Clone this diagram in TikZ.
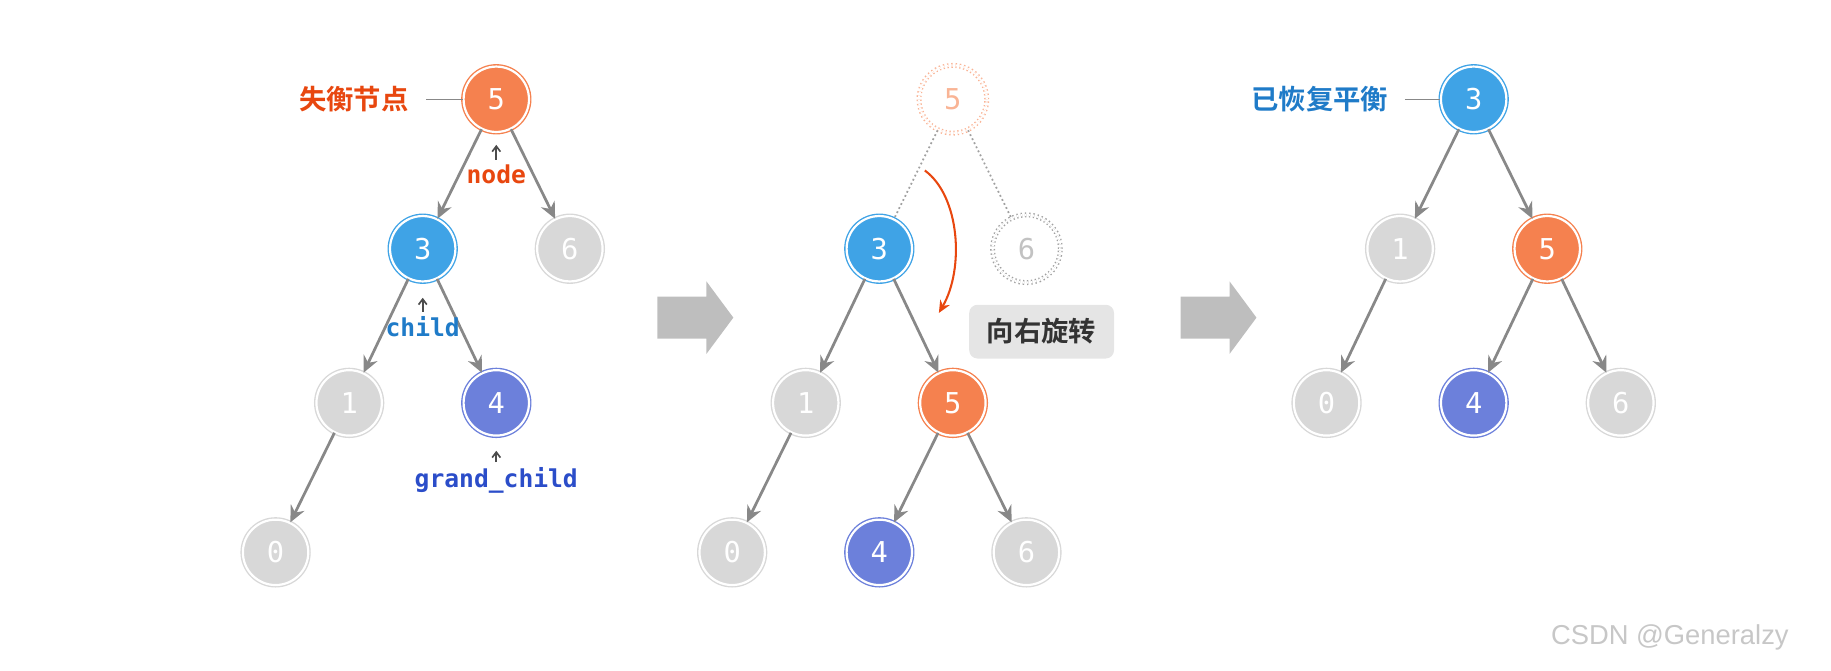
\documentclass[tikz,border=0pt]{standalone}
\usepackage{fontspec}
\setmainfont{DejaVu Sans Mono}
\newfontfamily\cjk{Noto Sans CJK SC}[BoldFont={Noto Sans CJK SC Bold}]
\newfontfamily\wm{Liberation Sans}
\usetikzlibrary{arrows.meta}
\definecolor{cor}{HTML}{F5814F}
\definecolor{cbl}{HTML}{3FA3E6}
\definecolor{cpu}{HTML}{6C80DB}
\definecolor{cgr}{HTML}{D8D8D8}
\definecolor{ced}{HTML}{888888}
\definecolor{lor}{HTML}{E8470F}
\definecolor{lbl}{HTML}{1F7BC8}
\definecolor{lpu}{HTML}{2B4DC9}
\newdimen\px \px=0.03cm
\tikzset{
 tn/.style={circle,minimum size=56\px,inner sep=0pt,fill=#1,draw=#1,double=white,double distance=1.6pt,line width=1pt,text=white,font=\fontsize{21}{21}\selectfont},
 gh/.style={circle,minimum size=58\px,inner sep=0pt,draw=#1,dotted,double=white,double distance=1.6pt,line width=1pt,font=\fontsize{21}{21}\selectfont},
 ed/.style={draw=ced,line width=2pt,-{Stealth[length=12pt,width=11pt,inset=4pt]}},
 ged/.style={draw=ced!80,line width=1.3pt,dotted},
 lab/.style={font=\bfseries\fontsize{18}{18}\selectfont},
 cj/.style={font=\cjk\bfseries\fontsize{20}{20}\selectfont},
 car/.style={line width=1.2pt,-{Straight Barb[length=4pt,width=6pt]}},
 big/.style={fill=ced!55,draw=none}
}
\begin{document}
\begin{tikzpicture}[x=0.03cm,y=-0.03cm]
\useasboundingbox (0,0) rectangle (1568,574);
% tree 1
\node[tn=cor] (a5) at (425,85) {5};
\node[tn=cbl] (a3) at (362,213) {3};
\node[tn=cgr] (a6) at (488,213) {6};
\node[tn=cgr] (a1) at (299,345) {1};
\node[tn=cpu] (a4) at (425,345) {4};
\node[tn=cgr] (a0) at (236,473) {0};
\draw[ed] (a5)--(a3); \draw[ed] (a5)--(a6);
\draw[ed] (a3)--(a1); \draw[ed] (a3)--(a4);
\draw[ed] (a1)--(a0);
\node[cj,text=lor,anchor=east] (l1) at (354,85) {失衡节点};
\draw[ced,line width=1pt] (365,85)--(a5.west);
\node[lab,text=lor] (ln) at (425,149) {node};
\coordinate (cn) at (425,124); \draw[car,black!70] (ln.north)--(cn);
\node[lab,text=lbl] (lc) at (362,280) {child};
\coordinate (cc) at (362,255); \draw[car,black!70] (lc.north)--(cc);
\node[lab,text=lpu] (lg) at (425,411) {grand\_child};
\coordinate (cg) at (425,386); \draw[car,black!70] (lg.north)--(cg);
% arrows
\fill[big] (563,254)--(605,254)--(605,241)--(628,272)--(605,303)--(605,290)--(563,290)--cycle;
\fill[big] (1011,254)--(1053,254)--(1053,241)--(1076,272)--(1053,303)--(1053,290)--(1011,290)--cycle;
% tree 2
\node[gh=cor!60,text=cor!60] (g5) at (816,85) {5};
\node[gh=ced!80,text=cgr!90!black] (g6) at (879,213) {6};
\node[tn=cbl] (b3) at (753,213) {3};
\node[tn=cgr] (b1) at (690,345) {1};
\node[tn=cor] (b5) at (816,345) {5};
\node[tn=cgr] (b0) at (627,473) {0};
\node[tn=cpu] (b4) at (753,473) {4};
\node[tn=cgr] (b6) at (879,473) {6};
\draw[ged] (g5)--(b3); \draw[ged] (g5)--(g6);
\draw[ed] (b3)--(b1); \draw[ed] (b3)--(b5);
\draw[ed] (b1)--(b0); \draw[ed] (b5)--(b4); \draw[ed] (b5)--(b6);
\coordinate (rs) at (792,146); \coordinate (re) at (804,268);
\draw[lor,line width=1.5pt,-{Stealth[length=9pt,width=8pt]}] (rs) .. controls (822,168) and (826,230) .. (re);
\node[cj,fill=black!10,rounded corners=6pt,minimum width=124\px,minimum height=46\px,text=black!80] (rot) at (892,284) {向右旋转};
% tree 3
\node[tn=cbl] (c3) at (1262,85) {3};
\node[tn=cgr] (c1) at (1199,213) {1};
\node[tn=cor] (c5) at (1325,213) {5};
\node[tn=cgr] (c0) at (1136,345) {0};
\node[tn=cpu] (c4) at (1262,345) {4};
\node[tn=cgr] (c6) at (1388,345) {6};
\draw[ed] (c3)--(c1); \draw[ed] (c3)--(c5);
\draw[ed] (c1)--(c0); \draw[ed] (c5)--(c4); \draw[ed] (c5)--(c6);
\node[cj,text=lbl,anchor=east] (l3) at (1193,85) {已恢复平衡};
\draw[ced,line width=1pt] (1203,85)--(c3.west);
\node[font=\wm\fontsize{20}{20}\selectfont,text=black!22] (wmk) at (1430,546) {CSDN @Generalzy};
\end{tikzpicture}
\end{document}
